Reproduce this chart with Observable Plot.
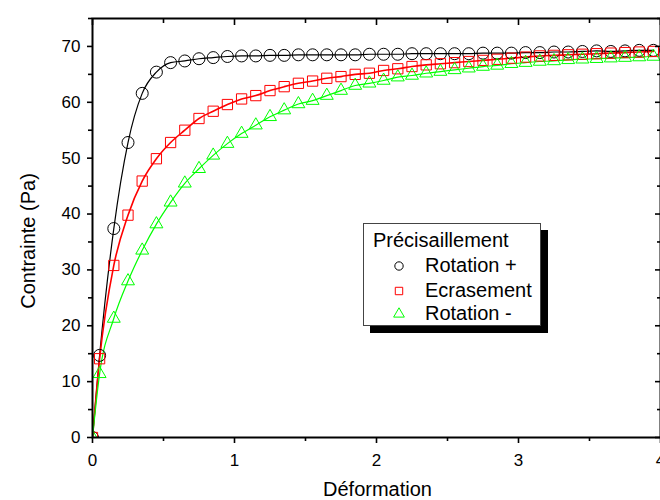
<!DOCTYPE html>
<html>
<head>
<meta charset="utf-8">
<script src="https://cdn.jsdelivr.net/npm/d3@7"></script>
<script src="https://cdn.jsdelivr.net/npm/@observablehq/plot@0.6"></script>
<style>
  html, body { margin: 0; padding: 0; background: #fff; }
  #wrap { position: relative; width: 660px; height: 500px; overflow: hidden; font-family: "Liberation Sans", Arial, sans-serif; }
  #legend { position: absolute; left: 363px; top: 223px; width: 176px; height: 101px; background: #fff; border: 1px solid #444; box-shadow: 7px 7px 0 #000; color: #000; font-size: 20px; }
  #legend .title { position: absolute; left: 9px; top: 5px; }
  #legend .row { position: absolute; left: 0; height: 24px; line-height: 24px; }
  #legend .row svg { position: absolute; left: 28px; top: 6px; }
  #legend .row span { position: absolute; left: 61px; white-space: nowrap; }
</style>
</head>
<body>
<div id="wrap"></div>
<script>
// Data
const deformation = [0, 0.05, 0.15, 0.25, 0.35, 0.45, 0.55, 0.65, 0.75, 0.85, 0.95,
  1.05, 1.15, 1.25, 1.35, 1.45, 1.55, 1.65, 1.75, 1.85, 1.95,
  2.05, 2.15, 2.25, 2.35, 2.45, 2.55, 2.65, 2.75, 2.85, 2.95,
  3.05, 3.15, 3.25, 3.35, 3.45, 3.55, 3.65, 3.75, 3.85, 3.95];
const rotationPlus = [0, 14.7, 37.4, 52.8, 61.6, 65.4, 67.1, 67.4, 67.8, 68.0, 68.2,
  68.3, 68.3, 68.4, 68.4, 68.5, 68.5, 68.5, 68.5, 68.5, 68.6,
  68.6, 68.6, 68.7, 68.7, 68.7, 68.7, 68.7, 68.8, 68.8, 68.8,
  68.9, 68.9, 69.0, 69.0, 69.1, 69.2, 69.1, 69.2, 69.3, 69.3];
const ecrasement = [0, 14.1, 30.8, 39.8, 45.9, 49.9, 52.8, 55.0, 57.1, 58.4, 59.6,
  60.6, 61.2, 62.1, 62.8, 63.4, 63.8, 64.3, 64.6, 65.0, 65.2,
  65.7, 66.0, 66.4, 66.7, 66.9, 67.1, 67.3, 67.5, 67.7, 67.9,
  68.1, 68.3, 68.4, 68.5, 68.6, 68.7, 68.8, 68.9, 69.0, 69.1];
const rotationMinus = [0, 11.4, 21.3, 28.0, 33.5, 38.2, 42.1, 45.5, 48.1, 50.5, 52.6,
  54.4, 55.9, 57.4, 58.6, 59.7, 60.3, 61.2, 62.1, 63.0, 63.4,
  63.9, 64.5, 64.8, 65.2, 65.5, 65.8, 66.1, 66.4, 66.6, 66.9,
  67.1, 67.3, 67.4, 67.6, 67.7, 67.8, 67.9, 68.0, 68.1, 68.2];

const seriesNames = ["Rotation +", "Ecrasement", "Rotation -"];
const seriesColors = ["#000000", "#ff0000", "#00ff00"];
const seriesSymbols = ["circle", "square", "triangle"];
const legendTitle = "Précisaillement";
const xTicks = [0, 1, 2, 3, 4];
const xMinorTicks = [0.5, 1.5, 2.5, 3.5];
const yTicks = [0, 10, 20, 30, 40, 50, 60, 70];
const yMinorTicks = [5, 15, 25, 35, 45, 55, 65, 75];
const xLabel = "Déformation";
const yLabel = "Contrainte (Pa)";

const allValues = [rotationPlus, ecrasement, rotationMinus];
const rows = [];
allValues.forEach((vals, s) => vals.forEach((v, i) => rows.push({x: deformation[i], y: v, s: seriesNames[s]})));
const bySeries = name => rows.filter(d => d.s === name);

const font = "Liberation Sans, Arial, sans-serif";
const marks = [];
seriesNames.forEach((name, k) => {
  marks.push(Plot.line(bySeries(name), {x: "x", y: "y", stroke: seriesColors[k], strokeWidth: k === 1 ? 1.6 : 1.2, curve: "monotone-x", clip: true}));
});
const rs = [6, 5.8, 4.8];
seriesNames.forEach((name, k) => {
  marks.push(Plot.dot(bySeries(name), {x: "x", y: "y", stroke: seriesColors[k], fill: "none", strokeWidth: 1, symbol: () => seriesSymbols[k], r: rs[k], clip: true}));
});

const plot = Plot.plot({
  width: 660,
  height: 500,
  marginLeft: 92,
  marginRight: 0,
  marginTop: 18,
  marginBottom: 63,
  style: {fontFamily: font, fontSize: "17px", color: "#000", background: "#fff"},
  x: {domain: [0, 4]},
  y: {domain: [0, 75]},
  symbol: {type: "identity"},
  marks: [
    ...marks,
    Plot.axisX({anchor: "bottom", ticks: xTicks, tickSize: 6, tickPadding: 10, tickFormat: d => String(d), strokeWidth: 1.6, fontSize: 17, label: null}),
    Plot.axisX({anchor: "bottom", ticks: xMinorTicks, tickSize: 4, text: null, strokeWidth: 1.6, label: null}),
    Plot.axisX({anchor: "top", ticks: xTicks, tickSize: -6, text: null, strokeWidth: 1.6, label: null}),
    Plot.axisX({anchor: "top", ticks: xMinorTicks, tickSize: -4, text: null, strokeWidth: 1.6, label: null}),
    Plot.axisY({anchor: "left", ticks: yTicks, tickSize: 5, tickPadding: 7, tickFormat: d => String(d), strokeWidth: 1.6, fontSize: 17, label: null}),
    Plot.axisY({anchor: "left", ticks: yMinorTicks, tickSize: 4, text: null, strokeWidth: 1.6, label: null}),
    Plot.axisY({anchor: "right", ticks: yTicks, tickSize: -6, text: null, strokeWidth: 1.6, label: null}),
    Plot.axisY({anchor: "right", ticks: yMinorTicks, tickSize: -4, text: null, strokeWidth: 1.6, label: null}),
    Plot.frame({stroke: "#000", strokeWidth: 2}),
    Plot.text([yLabel], {frameAnchor: "left", dx: -64, dy: 13, rotate: -90, fontSize: 20, textAnchor: "middle", lineAnchor: "middle", fill: "#000"}),
    Plot.text([xLabel], {frameAnchor: "bottom", dx: 1, dy: 52, fontSize: 20, textAnchor: "middle", lineAnchor: "middle", fill: "#000"})
  ]
});

const wrap = document.getElementById("wrap");
wrap.appendChild(plot);

// Legend (HTML overlay)
const legend = document.createElement("div");
legend.id = "legend";
const t = document.createElement("div");
t.className = "title";
t.textContent = legendTitle;
legend.appendChild(t);
const rowTops = [29, 54, 77];
seriesNames.forEach((name, k) => {
  const row = document.createElement("div");
  row.className = "row";
  row.style.top = rowTops[k] + "px";
  const sym = d3.create("svg").attr("width", 14).attr("height", 14);
  const sz = [55, 55, 50][k];
  const symType = [d3.symbolCircle, d3.symbolSquare, d3.symbolTriangle][k];
  sym.append("path").attr("transform", "translate(7,7)").attr("d", d3.symbol(symType, sz)()).attr("fill", "none").attr("stroke", seriesColors[k]).attr("stroke-width", 1);
  row.appendChild(sym.node());
  const sp = document.createElement("span");
  sp.textContent = name;
  row.appendChild(sp);
  legend.appendChild(row);
});
wrap.appendChild(legend);
</script>
</body>
</html>
